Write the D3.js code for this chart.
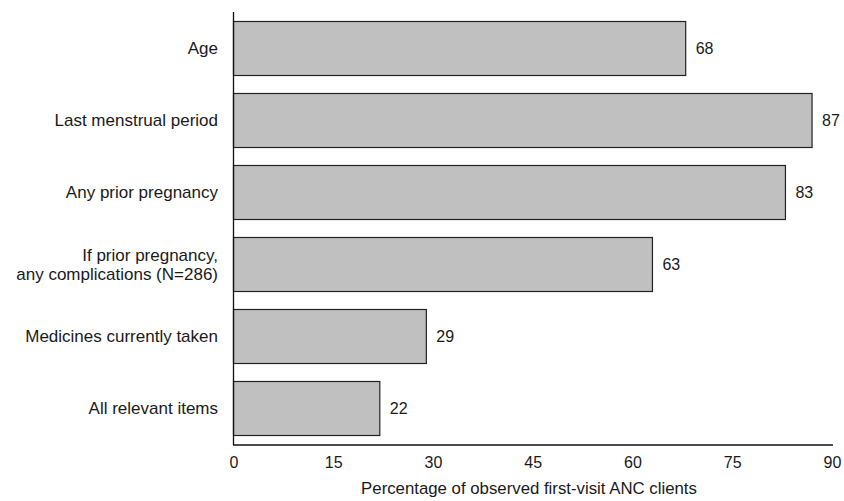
<!DOCTYPE html>
<html><head><meta charset="utf-8">
<script src="https://cdn.jsdelivr.net/npm/d3@7/dist/d3.min.js"></script>
<style>body{margin:0;background:#fff}svg{display:block}text{font-family:"Liberation Sans",Arial,sans-serif;fill:#1a1a1a}</style>
</head><body><svg id="c" width="844" height="501"></svg>
<script>
const categories = [["Age"],["Last menstrual period"],["Any prior pregnancy"],["If prior pregnancy,","any complications (N=286)"],["Medicines currently taken"],["All relevant items"]];
const values = [68, 87, 83, 63, 29, 22];
const tickValues = [0, 15, 30, 45, 60, 75, 90];
const axisTitle = "Percentage of observed first-visit ANC clients";

const svg = d3.select("#c");
const x = d3.scaleLinear().domain([0, 90]).range([233.5, 832]);
const y = d3.scaleBand().domain(d3.range(categories.length)).range([12, 444]).paddingInner(0.25).paddingOuter(0.125);

svg.selectAll("rect.bar").data(values).join("rect")
  .attr("x", x(0)).attr("y", (d,i)=>y(i)+0.5)
  .attr("width", d=>x(d)-x(0)).attr("height", y.bandwidth())
  .attr("fill", "#c0c0c0").attr("stroke", "#222").attr("stroke-width", 1.2);

svg.selectAll("text.val").data(values).join("text")
  .attr("x", d=>x(d)+10).attr("y", (d,i)=>y(i)+y.bandwidth()/2+0.5)
  .attr("dy", "0.35em").attr("font-size", 16).text(d=>d);

const cat = svg.selectAll("text.cat").data(categories).join("text")
  .attr("text-anchor", "end").attr("font-size", 17)
  .attr("y", (d,i)=>y(i)+y.bandwidth()/2+0.5);
cat.each(function(lines){
  const t = d3.select(this);
  lines.forEach((l,j)=>{
    t.append("tspan").attr("x", 218)
     .attr("dy", j===0 ? (0.35 - (lines.length-1)*0.54)+"em" : "1.08em").text(l);
  });
});

// axes
const xAxis = d3.axisBottom(x).tickValues(tickValues).tickSize(0).tickPadding(12);
const gx = svg.append("g").attr("transform", "translate(0,445)").call(xAxis);
gx.select(".domain").remove();
gx.selectAll("text").attr("font-size", 16).attr("fill", "#1a1a1a").attr("font-family", "Liberation Sans, Arial, sans-serif");
svg.append("line").attr("x1", x(0)-0.5).attr("x2", 833).attr("y1", 445).attr("y2", 445).attr("stroke", "#111").attr("stroke-width", 1.3);
svg.append("line").attr("x1", x(0)).attr("x2", x(0)).attr("y1", 12).attr("y2", 445).attr("stroke", "#111").attr("stroke-width", 1.3);

svg.append("text").attr("x", 529).attr("y", 494).attr("text-anchor", "middle").attr("font-size", 16.8).text(axisTitle);
</script></body></html>
